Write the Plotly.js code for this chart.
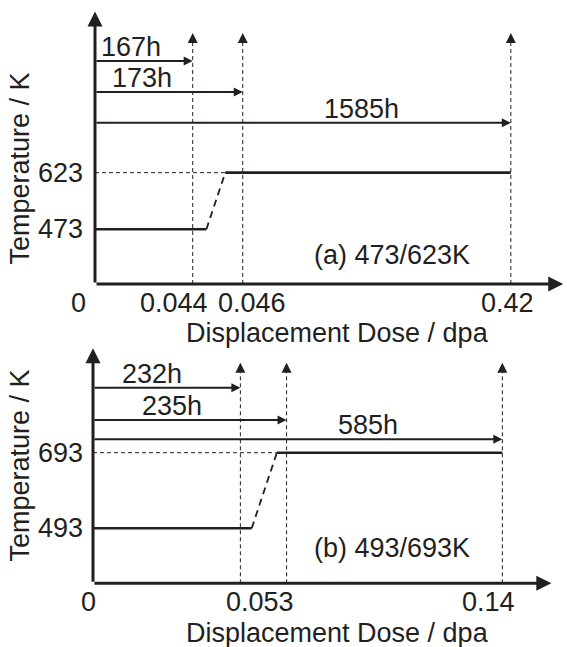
<!DOCTYPE html>
<html>
<head>
<meta charset="utf-8">
<script src="https://cdn.plot.ly/plotly-3.0.1.min.js"></script>
<style>html,body{margin:0;padding:0;background:#fff;}#chart{width:567px;height:647px;}</style>
</head>
<body>
<div id="chart"></div>
<script>
// ---------- Panel (a) 473/623K ----------
const doseLabelsA = ['0', '0.044', '0.046', '0.42'];
const doseSlotsA = [0, 20.7, 31.3, 88.1];          // schematic positions on the dose axis
const hourLabelsA = ['167h', '173h', '1585h'];
const hourRowsA = [919, 837, 755];                 // schematic heights of the time arrows
const hourLabelSlotsA = [7.6, 9.9, 56.4];
const tempsA = [473, 623];
const rampA = [23.6, 27.6];                        // start / end of the temperature change
const yLimitsA = [328, 1054, 993];                 // axis bottom, axis top, dashed-arrow tip
const panelLabelA = '(a) 473/623K';

// ---------- Panel (b) 493/693K ----------
const doseLabelsB = ['0', '0.053', '0.14'];
const doseSlotsB = [0, 31.9, 41.9, 88.6];          // 232h end, 235h end, 0.14
const doseLabelSlotsB = [0, 36.9, 88.6];
const hourLabelsB = ['232h', '235h', '585h'];
const hourRowsB = [865, 779.5, 728.5];
const hourLabelSlotsB = [12.8, 17.2, 59.5];
const tempsB = [493, 693];
const rampB = [34.35, 39.8];
const yLimitsB = [347.4, 973.5, 931];
const panelLabelB = '(b) 493/693K';

const axisTitleX = 'Displacement Dose / dpa';
const axisTitleY = 'Temperature / K';

const INK = '#231f20';
const FONT = {family: 'Liberation Sans, Arial, sans-serif', size: 27, color: INK};

const traces = [];
const annotations = [];

function panel(opt) {
  const xa = opt.xa, ya = opt.ya;
  const yb = opt.yl[0], ytip = opt.yl[2];
  const s = opt.slots;
  // temperature profile
  traces.push({x: [0, opt.ramp[1]], y: [opt.temps[1], opt.temps[1]], xaxis: xa, yaxis: ya, mode: 'lines',
    line: {color: INK, width: 1, dash: '4px,3px'}, hoverinfo: 'skip'});
  traces.push({x: [0, opt.ramp[0]], y: [opt.temps[0], opt.temps[0]], xaxis: xa, yaxis: ya, mode: 'lines',
    line: {color: INK, width: 2.6}, hoverinfo: 'skip'});
  traces.push({x: opt.ramp, y: opt.temps, xaxis: xa, yaxis: ya, mode: 'lines',
    line: {color: INK, width: 1.8, dash: '7px,5px'}, hoverinfo: 'skip'});
  traces.push({x: [opt.ramp[1], s[3]], y: [opt.temps[1], opt.temps[1]], xaxis: xa, yaxis: ya, mode: 'lines',
    line: {color: INK, width: 2.6}, hoverinfo: 'skip'});
  // dashed verticals with arrow tips
  for (let i = 1; i < 4; i++) {
    traces.push({x: [s[i], s[i]], y: [yb, ytip - 5], xaxis: xa, yaxis: ya, mode: 'lines',
      line: {color: INK, width: 1, dash: '4px,3px'}, hoverinfo: 'skip'});
    annotations.push({xref: xa, yref: ya, x: s[i], y: ytip, ax: 0, ay: 10, text: '', showarrow: true,
      arrowhead: 2, arrowsize: 2, arrowwidth: 1, arrowcolor: INK});
  }
  // time arrows
  for (let i = 0; i < 3; i++) {
    annotations.push({xref: xa, yref: ya, axref: xa, ayref: ya, x: s[i + 1], y: opt.rows[i], ax: 0, ay: opt.rows[i],
      text: '', showarrow: true, arrowhead: 2, arrowsize: 0.9, arrowwidth: 2, arrowcolor: INK});
    annotations.push({xref: xa, yref: ya, x: opt.hourLabelSlots[i], y: opt.rows[i], yshift: 14,
      text: opt.hourLabels[i], showarrow: false, font: FONT, xanchor: 'center', yanchor: 'middle'});
  }
  // axes with arrows
  annotations.push({xref: xa, yref: ya, axref: xa, ayref: ya, x: opt.xEnd, y: yb, ax: 0, ay: yb, text: '',
    showarrow: true, arrowhead: 2, arrowsize: 1, arrowwidth: 3, arrowcolor: INK});
  annotations.push({xref: xa, yref: ya, axref: xa, ayref: ya, x: 0, y: opt.yEnd, ax: 0, ay: yb, text: '',
    showarrow: true, arrowhead: 2, arrowsize: 1, arrowwidth: 3, arrowcolor: INK});
  // tick labels
  opt.doseLabels.forEach((t, i) => {
    annotations.push({xref: xa, yref: ya, x: opt.doseLabelSlots[i], y: yb, xshift: opt.doseShift[i], yshift: -19,
      text: t, showarrow: false, font: FONT, xanchor: 'center', yanchor: 'middle'});
  });
  opt.temps.forEach(t => {
    annotations.push({xref: xa, yref: ya, x: 0, y: t, xshift: opt.yTickShift, text: String(t), showarrow: false,
      font: FONT, xanchor: 'right', yanchor: 'middle'});
  });
  annotations.push({xref: xa, yref: ya, x: opt.panelSlot, y: opt.panelY, text: opt.panelLabel, showarrow: false,
    font: FONT, xanchor: 'center', yanchor: 'middle'});
  annotations.push({xref: 'paper', yref: 'paper', x: opt.xTitlePos[0], y: opt.xTitlePos[1], text: axisTitleX,
    showarrow: false, font: FONT, xanchor: 'center', yanchor: 'middle'});
  annotations.push({xref: 'paper', yref: 'paper', x: opt.yTitlePos[0], y: opt.yTitlePos[1], text: axisTitleY,
    textangle: -90, showarrow: false, font: FONT, xanchor: 'center', yanchor: 'middle'});
}

panel({xa: 'x', ya: 'y', yl: yLimitsA, slots: doseSlotsA, temps: tempsA, ramp: rampA, rows: hourRowsA,
  hourLabels: hourLabelsA, hourLabelSlots: hourLabelSlotsA, doseLabels: doseLabelsA, doseLabelSlots: doseSlotsA,
  doseShift: [-16.7, -19, 9, -3], yTickShift: -10, panelLabel: panelLabelA, panelSlot: 63.0, panelY: 405,
  xEnd: 99.2, yEnd: yLimitsA[1] - 4, xTitlePos: [0.5952, 0.4853], yTitlePos: [0.0344, 0.7388]});

panel({xa: 'x2', ya: 'y2', yl: yLimitsB, slots: doseSlotsB, temps: tempsB, ramp: rampB, rows: hourRowsB,
  hourLabels: hourLabelsB, hourLabelSlots: hourLabelSlotsB, doseLabels: doseLabelsB, doseLabelSlots: doseLabelSlotsB,
  doseShift: [-4.7, -3, -14], yTickShift: -8, panelLabel: panelLabelB, panelSlot: 64.7, panelY: 440.8,
  xEnd: 99.2, yEnd: yLimitsB[1] - 4, xTitlePos: [0.5961, 0.0224], yTitlePos: [0.0344, 0.2798]});

const hidden = {showgrid: false, zeroline: false, showticklabels: false, showline: false, ticks: '', fixedrange: true};
const layout = {
  width: 567, height: 647, margin: {l: 0, r: 0, t: 0, b: 0}, showlegend: false,
  paper_bgcolor: '#fff', plot_bgcolor: 'rgba(0,0,0,0)',
  xaxis: Object.assign({domain: [95 / 567, 1], range: [0, 100]}, hidden),
  yaxis: Object.assign({domain: [1 - 284 / 647, 1 - 10 / 647], range: [yLimitsA[0], yLimitsA[1]]}, hidden),
  xaxis2: Object.assign({domain: [93 / 567, 555 / 567], range: [0, 100], anchor: 'y2'}, hidden),
  yaxis2: Object.assign({domain: [1 - 583.3 / 647, 1 - 346.7 / 647], range: [yLimitsB[0], yLimitsB[1]], anchor: 'x2'}, hidden),
  annotations: annotations
};
Plotly.newPlot('chart', traces, layout, {staticPlot: true, displayModeBar: false});
</script>
</body>
</html>
